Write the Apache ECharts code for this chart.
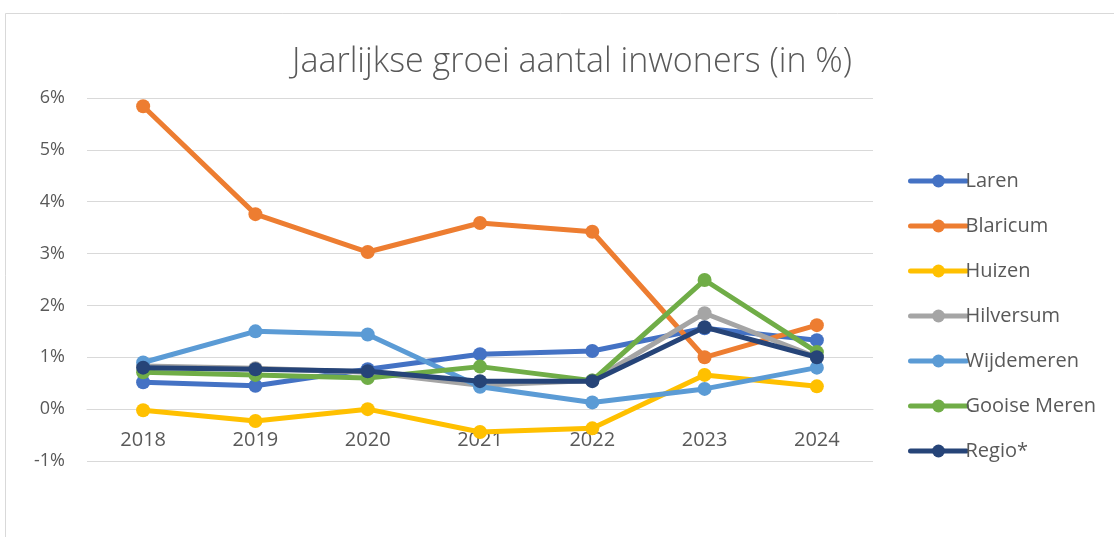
<!DOCTYPE html>
<html>
<head>
    <meta charset="utf-8">
    <title>Jaarlijkse groei aantal inwoners</title>
    <script src="https://cdn.jsdelivr.net/npm/echarts@6/dist/echarts.min.js"></script>
    <style>
        * { padding: 0; margin: 0; }
        body { background: #fff; }
    </style>
</head>
<body>
    <div id="main" style="width:1114px;height:537px;"></div>
    <script type="text/javascript">
        // jaren en groei per gemeente (in %)
        var jaren = ['2018', '2019', '2020', '2021', '2022', '2023', '2024'];
        var laren = [0.52, 0.45, 0.77, 1.06, 1.12, 1.56, 1.33];
        var blaricum = [5.84, 3.76, 3.03, 3.59, 3.42, 1.00, 1.62];
        var huizen = [-0.02, -0.23, 0.00, -0.44, -0.37, 0.66, 0.44];
        var hilversum = [0.83, 0.79, 0.71, 0.46, 0.55, 1.85, 1.00];
        var wijdemeren = [0.90, 1.50, 1.44, 0.43, 0.13, 0.39, 0.80];
        var gooiseMeren = [0.71, 0.66, 0.60, 0.82, 0.55, 2.49, 1.10];
        var regio = [0.80, 0.77, 0.73, 0.54, 0.54, 1.58, 1.00];

        var namen = ['Laren', 'Blaricum', 'Huizen', 'Hilversum', 'Wijdemeren', 'Gooise Meren', 'Regio*'];
        var reeksen = [laren, blaricum, huizen, hilversum, wijdemeren, gooiseMeren, regio];
        var kleuren = ['#4472c4', '#ed7d31', '#ffc000', '#a5a5a5', '#5b9bd5', '#70ad47', '#264478'];

        var myChart = echarts.init(document.getElementById('main'));

        var series = namen.map(function (naam, i) {
            return {
                name: naam,
                type: 'line',
                data: reeksen[i],
                symbol: 'circle',
                symbolSize: 14,
                lineStyle: { width: 5, color: kleuren[i] },
                itemStyle: { color: kleuren[i] },
                z: 2 + i
            };
        });

        var option = {
            animation: false,
            backgroundColor: '#fff',
            color: kleuren,
            graphic: [{
                type: 'rect',
                shape: { x: 5.5, y: 13.5, width: 1300, height: 700 },
                style: { fill: 'none', stroke: '#d9d9d9', lineWidth: 1 },
                silent: true
            }],
            title: {
                text: 'Jaarlijkse groei aantal inwoners (in %)',
                left: 567,
                textAlign: 'center',
                top: 40,
                textStyle: {
                    fontFamily: 'Open Sans',
                    fontWeight: 300,
                    fontSize: 34,
                    color: '#595959'
                }
            },
            legend: {
                orient: 'vertical',
                left: 903,
                top: 166,
                itemWidth: 56,
                itemHeight: 16,
                itemGap: 25,
                lineStyle: { width: 5, cap: 'round' },
                textStyle: {
                    fontFamily: 'Open Sans',
                    fontSize: 20,
                    color: '#595959',
                    padding: [0, 0, 0, -6]
                }
            },
            grid: {
                left: 87,
                right: 241,
                top: 98,
                bottom: 76
            },
            xAxis: {
                type: 'category',
                data: jaren,
                offset: -52,
                axisLine: { onZero: false, lineStyle: { color: '#d9d9d9', width: 1 } },
                axisTick: { show: false },
                axisLabel: {
                    margin: 21,
                    fontFamily: 'Open Sans',
                    fontSize: 20,
                    color: '#595959'
                }
            },
            yAxis: {
                type: 'value',
                min: -1,
                max: 6,
                interval: 1,
                axisLine: { show: false },
                axisTick: { show: false },
                splitLine: { lineStyle: { color: '#d9d9d9', width: 1 } },
                axisLabel: {
                    margin: 22,
                    formatter: '{value}%',
                    fontFamily: 'Open Sans',
                    fontSize: 18,
                    color: '#595959'
                }
            },
            series: series
        };

        myChart.setOption(option);
    </script>
</body>
</html>
